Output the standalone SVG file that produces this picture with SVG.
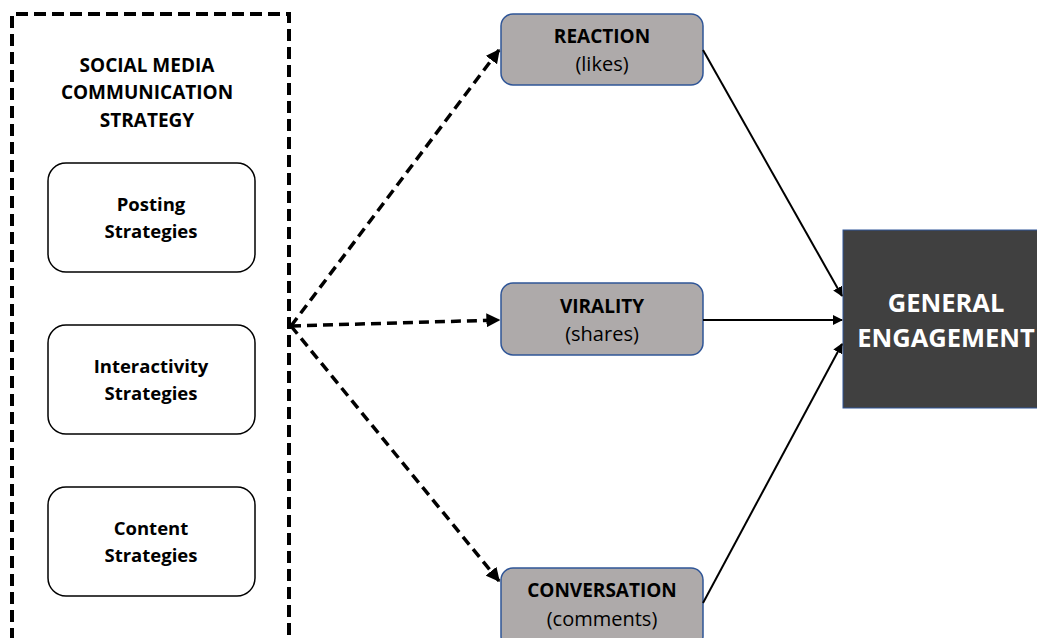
<svg xmlns="http://www.w3.org/2000/svg" width="1037" height="638" viewBox="0 0 1037 638">
<style>
text{font-family:"Open Sans","Noto Sans","Liberation Sans",sans-serif;text-anchor:middle;fill:#000}
.b{font-weight:bold}
.strat{fill:#fff;stroke:#000;stroke-width:1.5}
.grey{fill:#aeaaaa;stroke:#2f5597;stroke-width:1.5}
.dash{stroke:#000;stroke-width:3.5;stroke-dasharray:10 6;fill:none}
.solid{stroke:#000;stroke-width:2;fill:none}
</style>
<defs>
<marker id="ah" viewBox="0 0 10 10" refX="9" refY="5" markerWidth="4" markerHeight="4" orient="auto" markerUnits="strokeWidth"><path d="M0,0 L10,5 L0,10 z" fill="#000"/></marker>
<marker id="ah2" viewBox="0 0 10 10" refX="9" refY="5" markerWidth="5" markerHeight="5" orient="auto" markerUnits="strokeWidth"><path d="M0,0 L10,5 L0,10 z" fill="#000"/></marker>
</defs>
<g id="strategy-container">
<path d="M12,640 L12,14 L289,14 L289,640" stroke="#000" stroke-width="4" stroke-dasharray="12 6" fill="none"/>
<text class="b" x="147" y="72" font-size="19">SOCIAL MEDIA</text>
<text class="b" x="147" y="99" font-size="19">COMMUNICATION</text>
<text class="b" x="147" y="127" font-size="19">STRATEGY</text>
</g>
<g id="posting">
<rect class="strat" x="48" y="163" width="207" height="109" rx="18"/>
<text class="b" x="151" y="211" font-size="18.5">Posting</text>
<text class="b" x="151" y="238" font-size="18.5">Strategies</text>
</g>
<g id="interactivity">
<rect class="strat" x="48" y="325" width="207" height="109" rx="18"/>
<text class="b" x="151" y="373" font-size="18.5">Interactivity</text>
<text class="b" x="151" y="400" font-size="18.5">Strategies</text>
</g>
<g id="content">
<rect class="strat" x="48" y="487" width="207" height="109" rx="18"/>
<text class="b" x="151" y="535" font-size="18.5">Content</text>
<text class="b" x="151" y="562" font-size="18.5">Strategies</text>
</g>
<g id="reaction">
<rect class="grey" x="501" y="14" width="202" height="71" rx="12"/>
<text class="b" x="602" y="43" font-size="19">REACTION</text>
<text x="602" y="71" font-size="20">(likes)</text>
</g>
<g id="virality">
<rect class="grey" x="501" y="283" width="202" height="72" rx="12"/>
<text class="b" x="602" y="313" font-size="19">VIRALITY</text>
<text x="602" y="341" font-size="20">(shares)</text>
</g>
<g id="conversation">
<rect class="grey" x="501" y="568" width="202" height="80" rx="12"/>
<text class="b" x="602" y="597" font-size="19">CONVERSATION</text>
<text x="602" y="626" font-size="20">(comments)</text>
</g>
<g id="general-engagement">
<rect x="843" y="230" width="200" height="178" fill="#404040" stroke="#2f5597" stroke-width="1"/>
<text class="b" x="946" y="312" font-size="25.5" style="fill:#fff">GENERAL</text>
<text class="b" x="946" y="347" font-size="25.5" style="fill:#fff">ENGAGEMENT</text>
</g>
<g id="connectors">
<line class="dash" x1="291" y1="326" x2="499" y2="50" marker-end="url(#ah)"/>
<line class="dash" x1="291" y1="326" x2="499" y2="320" marker-end="url(#ah)"/>
<line class="dash" x1="291" y1="326" x2="499" y2="581" marker-end="url(#ah)"/>
<line class="solid" x1="703" y1="50" x2="842" y2="296" marker-end="url(#ah2)"/>
<line class="solid" x1="703" y1="320" x2="842" y2="320" marker-end="url(#ah2)"/>
<line class="solid" x1="703" y1="603" x2="842" y2="344" marker-end="url(#ah2)"/>
</g>
</svg>
